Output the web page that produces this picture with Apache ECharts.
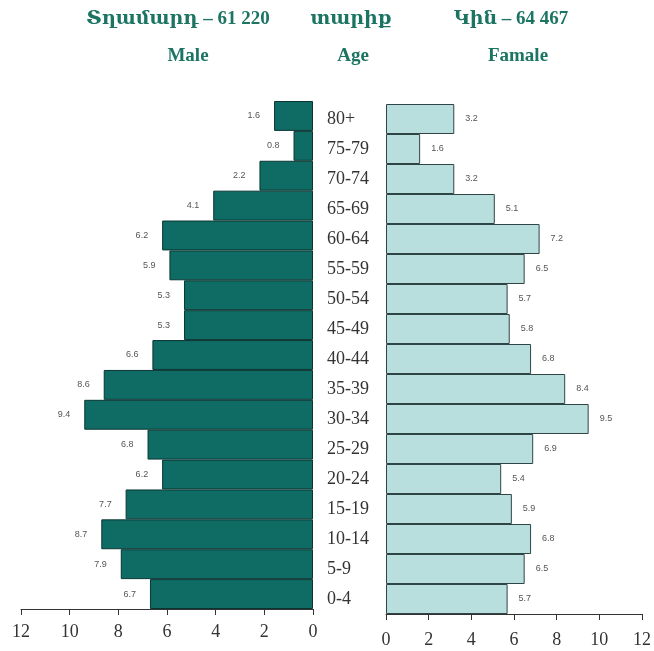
<!DOCTYPE html>
<html>
<head>
<meta charset="utf-8">
<script src="https://cdn.jsdelivr.net/npm/echarts@6/dist/echarts.min.js"></script>
<style>html,body{margin:0;padding:0;background:#fff}#c{width:654px;height:651px}</style>
</head>
<body>
<div id="c"></div>
<script>
const ages = ['80+','75-79','70-74','65-69','60-64','55-59','50-54','45-49','40-44','35-39','30-34','25-29','20-24','15-19','10-14','5-9','0-4'];
const male = [1.6,0.8,2.2,4.1,6.2,5.9,5.3,5.3,6.6,8.6,9.4,6.8,6.2,7.7,8.7,7.9,6.7];
const female = [3.2,1.6,3.2,5.1,7.2,6.5,5.7,5.8,6.8,8.4,9.5,6.9,5.4,5.9,6.8,6.5,5.7];
const axisTicks = [0,2,4,6,8,10,12];

const serif = "'Liberation Serif','DejaVu Serif',serif";
const titleColor = '#1c7463';
const chart = echarts.init(document.getElementById('c'));
const axisMax = axisTicks[axisTicks.length-1];
const axisInt = axisTicks[1]-axisTicks[0];

function valAxis(idx, inverse, margin){
  return {
    type:'value', gridIndex: idx, inverse: inverse, min: axisTicks[0], max: axisMax, interval: axisInt,
    axisLine:{show:true, lineStyle:{color:'#333', width:1}},
    axisTick:{show:true, length:6, lineStyle:{color:'#333'}},
    splitLine:{show:false},
    axisLabel:{fontFamily: serif, fontSize:18, color:'#333', margin: margin}
  };
}

chart.setOption({
  animation:false,
  backgroundColor:'#fff',
  graphic:[
    {type:'text', left:'center', style:{text:'Տղամարդ – 61 220', x:178, y:19, textAlign:'center', textVerticalAlign:'middle', font:"bold 19px 'Liberation Serif','DejaVu Serif',serif", fill:titleColor}, x:0, y:0, left:null},
    {type:'text', style:{text:'Male', x:188, y:56, textAlign:'center', textVerticalAlign:'middle', font:"bold 19px 'Liberation Serif','DejaVu Serif',serif", fill:titleColor}},
    {type:'text', style:{text:'տարիք', x:351, y:19, textAlign:'center', textVerticalAlign:'middle', font:"bold 19px 'Liberation Serif','DejaVu Serif',serif", fill:titleColor}},
    {type:'text', style:{text:'Age', x:353, y:56, textAlign:'center', textVerticalAlign:'middle', font:"bold 19px 'Liberation Serif','DejaVu Serif',serif", fill:titleColor}},
    {type:'text', style:{text:'Կին – 64 467', x:511, y:19, textAlign:'center', textVerticalAlign:'middle', font:"bold 19px 'Liberation Serif','DejaVu Serif',serif", fill:titleColor}},
    {type:'text', style:{text:'Famale', x:518, y:56, textAlign:'center', textVerticalAlign:'middle', font:"bold 19px 'Liberation Serif','DejaVu Serif',serif", fill:titleColor}}
  ],
  grid:[
    {left:21, width:292, top:101, height:508},
    {left:386, width:256, top:104, height:510}
  ],
  xAxis:[ valAxis(0, true, 14), valAxis(1, false, 17) ],
  yAxis:[
    {type:'category', gridIndex:0, data:ages, inverse:true,
      axisLine:{show:false}, axisTick:{show:false}, axisLabel:{show:false}},
    {type:'category', gridIndex:1, data:ages, inverse:true,
      axisLine:{show:false}, axisTick:{show:false},
      axisLabel:{show:true, align:'left', margin:59, fontFamily:serif, fontSize:18, color:'#333'}}
  ],
  series:[
    {type:'bar', xAxisIndex:0, yAxisIndex:0, data:male, barCategoryGap:'0%',
      itemStyle:{color:'#0f6c64', borderColor:'#0a3532', borderWidth:1},
      label:{show:true, position:'left', distance:14, fontSize:9, fontFamily:"'Liberation Sans',sans-serif", color:'#555'}},
    {type:'bar', xAxisIndex:1, yAxisIndex:1, data:female, barCategoryGap:'0%',
      itemStyle:{color:'#b9dede', borderColor:'#2f4545', borderWidth:1},
      label:{show:true, position:'right', distance:11, fontSize:9, fontFamily:"'Liberation Sans',sans-serif", color:'#555'}}
  ]
});
</script>
</body>
</html>
